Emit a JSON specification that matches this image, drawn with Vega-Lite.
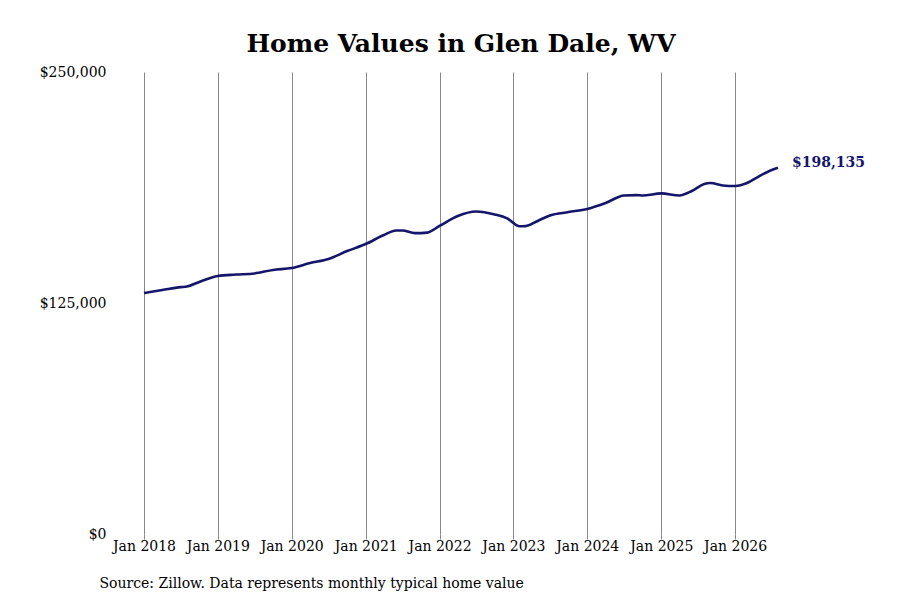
{
  "$schema": "https://vega.github.io/schema/vega-lite/v6.json",
  "autosize": "none",
  "padding": {"left": 144, "top": 72, "right": 122, "bottom": 66},
  "width": 634,
  "height": 462,
  "background": "white",
  "title": {
    "text": "Home Values in Glen Dale, WV",
    "font": "DejaVu Serif",
    "fontSize": 25,
    "fontWeight": "bold",
    "color": "#000000",
    "anchor": "middle",
    "offset": 8
  },
  "config": {
    "view": {"stroke": null},
    "font": "DejaVu Serif"
  },
  "data": {
    "values": [
      {"date": "2018-01-01", "value": 130400},
      {"date": "2018-04-01", "value": 132000},
      {"date": "2018-07-01", "value": 133600},
      {"date": "2018-08-01", "value": 133900},
      {"date": "2018-10-01", "value": 136400},
      {"date": "2019-01-01", "value": 139600},
      {"date": "2019-04-01", "value": 140400},
      {"date": "2019-07-01", "value": 141000},
      {"date": "2019-10-01", "value": 142900},
      {"date": "2020-01-01", "value": 143900},
      {"date": "2020-04-01", "value": 146600},
      {"date": "2020-07-01", "value": 148800},
      {"date": "2020-10-01", "value": 153100},
      {"date": "2021-01-01", "value": 156900},
      {"date": "2021-04-01", "value": 161800},
      {"date": "2021-06-01", "value": 164200},
      {"date": "2021-07-01", "value": 164200},
      {"date": "2021-09-01", "value": 162800},
      {"date": "2021-11-01", "value": 163100},
      {"date": "2022-01-01", "value": 166700},
      {"date": "2022-04-01", "value": 172100},
      {"date": "2022-07-01", "value": 174500},
      {"date": "2022-10-01", "value": 172900},
      {"date": "2022-12-01", "value": 170800},
      {"date": "2023-02-01", "value": 166500},
      {"date": "2023-03-01", "value": 166600},
      {"date": "2023-05-01", "value": 169400},
      {"date": "2023-07-01", "value": 172400},
      {"date": "2023-10-01", "value": 174200},
      {"date": "2024-01-01", "value": 175900},
      {"date": "2024-04-01", "value": 179100},
      {"date": "2024-07-01", "value": 183200},
      {"date": "2024-09-01", "value": 183400},
      {"date": "2024-10-01", "value": 183200},
      {"date": "2025-01-01", "value": 184300},
      {"date": "2025-04-01", "value": 183200},
      {"date": "2025-06-01", "value": 185600},
      {"date": "2025-08-01", "value": 189400},
      {"date": "2025-09-01", "value": 189900},
      {"date": "2025-11-01", "value": 188600},
      {"date": "2026-01-01", "value": 188300},
      {"date": "2026-03-01", "value": 189900},
      {"date": "2026-05-01", "value": 193700},
      {"date": "2026-07-01", "value": 197000},
      {"date": "2026-08-01", "value": 198135}
    ]
  },
  "layer": [
    {
      "mark": {"type": "line", "color": "#15156b", "strokeWidth": 2.6, "interpolate": "monotone"},
      "encoding": {
        "x": {
          "field": "date",
          "type": "temporal",
          "scale": {"domain": ["2018-01-01", "2026-08-01"], "nice": false},
          "axis": {
            "format": "%b %Y",
            "tickCount": {"interval": "year", "step": 1},
            "grid": true,
            "gridColor": "#888888",
            "gridWidth": 1,
            "domain": false,
            "ticks": true,
            "tickColor": "#888888",
            "tickSize": 5,
            "labelFont": "DejaVu Serif",
            "labelFontSize": 14,
            "labelColor": "#000000",
            "labelPadding": 0,
            "labelFlush": false,
            "title": "Source: Zillow. Data represents monthly typical home value",
            "titleFont": "DejaVu Serif",
            "titleFontSize": 14,
            "titleFontWeight": "normal",
            "titleColor": "#000000",
            "titleAnchor": "start",
            "titleAlign": "left",
            "titleX": -45,
            "titleY": 42
          }
        },
        "y": {
          "field": "value",
          "type": "quantitative",
          "scale": {"domain": [0, 250000], "nice": false},
          "axis": {
            "values": [0, 125000, 250000],
            "format": "$,.0f",
            "grid": false,
            "domain": false,
            "ticks": false,
            "labelPadding": 38,
            "labelFont": "DejaVu Serif",
            "labelFontSize": 14,
            "labelColor": "#000000",
            "title": null
          }
        }
      }
    },
    {
      "transform": [{"filter": "datum.value == 198135"}],
      "mark": {
        "type": "text",
        "align": "left",
        "baseline": "middle",
        "dx": 14,
        "dy": -5,
        "font": "DejaVu Serif",
        "fontSize": 14,
        "fontWeight": "bold",
        "color": "#15156b"
      },
      "encoding": {
        "x": {"field": "date", "type": "temporal"},
        "y": {"field": "value", "type": "quantitative"},
        "text": {"field": "value", "type": "quantitative", "format": "$,.0f"}
      }
    }
  ]
}
